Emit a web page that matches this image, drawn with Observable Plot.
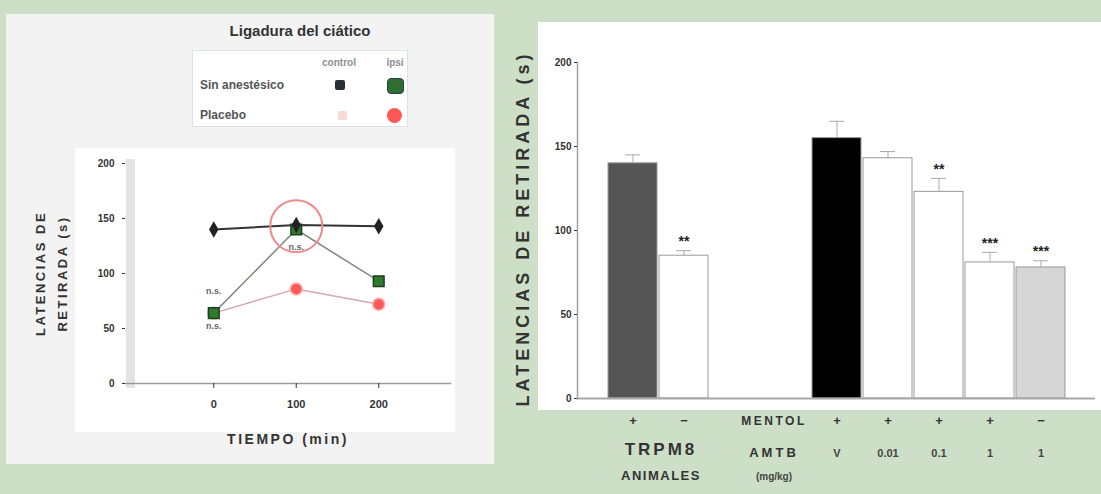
<!DOCTYPE html>
<html><head><meta charset="utf-8">
<script src="https://cdn.jsdelivr.net/npm/d3@7"></script>
<script src="https://cdn.jsdelivr.net/npm/@observablehq/plot@0.6"></script>
<style>
html,body{margin:0;padding:0;}
body{width:1101px;height:494px;background:#cde0c7;position:relative;overflow:hidden;font-family:"Liberation Sans",Arial,sans-serif;}
.abs{position:absolute;}
#leftPanel{left:6px;top:14px;width:488px;height:450px;background:#f2f3f2;}
#leftPlotBg{left:75px;top:148px;width:380px;height:284px;background:#fff;}
#rightPanel{left:538px;top:22px;width:563px;height:388px;background:#fff;}
#leftChart{left:0;top:140px;}
#rightChart{left:505px;top:0;}
#legTitle{left:185px;top:22px;width:230px;text-align:center;font-weight:bold;font-size:15px;color:#333;}
#legBox{left:192px;top:50px;width:216px;height:77px;background:#fff;border:1px solid #dbe2ea;box-sizing:border-box;}
.legHead{font-size:10px;font-weight:bold;color:#8a8f96;}
.legRow{font-size:12px;font-weight:bold;color:#555;}
</style>
</head>
<body>
<div id="leftPanel" class="abs"></div>
<div id="leftPlotBg" class="abs"></div>
<div id="rightPanel" class="abs"></div>
<div id="legTitle" class="abs">Ligadura del ciático</div>
<div id="legBox" class="abs"></div>
<div id="legend"></div>
<div id="leftChart" class="abs"></div>
<div id="rightChart" class="abs"></div>
<script>
// ---------- Left chart data ----------
const times = [0, 100, 200];
const leftXTicks = [0, 100, 200];
const leftYTicks = [0, 50, 100, 150, 200];
const sinAnestControl = [140, 144, 143];
const sinAnestIpsi = [64, 140, 93];
const placeboIpsi = [64, 86, 72];
const highlightTime = [100];
const highlightValue = [143];
const noteTimes = [0, 0, 100];
const noteValues = [84, 52, 124];
const noteTexts = ["n.s.", "n.s.", "n.s."];
const legendColumns = ["control", "ipsi"];
const legendRows = ["Sin anestésico", "Placebo"];

// ---------- Right chart data ----------
const barKeys = ["b1", "b2", "b3", "b4", "b5", "b6", "b7"];
const slotOrder = ["b1", "b2", "g1", "g2", "b3", "b4", "b5", "b6", "b7"];
const barValues = [140, 85, 155, 143, 123, 81, 78];
const barErrors = [5, 3, 10, 4, 8, 6, 4];
const barGroups = ["TRPM8 +", "TRPM8 −", "Mentol", "Mentol + AMTB", "Mentol + AMTB", "Mentol + AMTB", "AMTB"];
const barSig = ["", "**", "", "", "**", "***", "***"];
const row1Labels = ["+", "−", "+", "+", "+", "+", "−"];
const row2Labels = ["", "", "V", "0.01", "0.1", "1", "1"];
const rightYTicks = [0, 50, 100, 150, 200];

// ---------- Legend (HTML) ----------
const leg = document.getElementById("legend");
function addEl(html, style, cls) {
  const d = document.createElement("div");
  d.className = "abs " + (cls || "");
  d.innerHTML = html;
  Object.assign(d.style, style);
  leg.appendChild(d);
  return d;
}
addEl(legendColumns[0], {left: "312px", top: "57px", width: "54px", textAlign: "center"}, "legHead");
addEl(legendColumns[1], {left: "380px", top: "57px", width: "30px", textAlign: "center"}, "legHead");
addEl(legendRows[0], {left: "200px", top: "78px"}, "legRow");
addEl(legendRows[1], {left: "200px", top: "108px"}, "legRow");
addEl("", {left: "335px", top: "80px", width: "10px", height: "10px", background: "#2a2f33", borderRadius: "2px"});
addEl("", {left: "387px", top: "78px", width: "15px", height: "14px", background: "#2f6e32", borderRadius: "4px", border: "1px solid #244"});
addEl("", {left: "338px", top: "111px", width: "9px", height: "9px", background: "#f6d9d4", borderRadius: "2px"});
addEl("", {left: "387px", top: "108px", width: "15px", height: "15px", background: "#ff5858", borderRadius: "50%"});

function spaceText(svg, match, spacing) {
  d3.select(svg).selectAll("text")
    .filter(function () { return this.textContent.replace(/\s/g, "") === match.replace(/\s/g, ""); })
    .attr("letter-spacing", spacing);
}

// ---------- Left chart ----------
const leftRows = (vals, s) => times.map((t, i) => ({t, v: vals[i], s}));
const blackRows = leftRows(sinAnestControl, legendRows[0] + " " + legendColumns[0]);
const greenRows = leftRows(sinAnestIpsi, legendRows[0] + " " + legendColumns[1]);
const redRows = leftRows(placeboIpsi, legendRows[1] + " " + legendColumns[1]);
const highlight = highlightTime.map((t, i) => ({t, v: highlightValue[i]}));
const notes = noteTimes.map((t, i) => ({t, v: noteValues[i], text: noteTexts[i]}));
const leftYTitle = "LATENCIAS DE\nRETIRADA (s)";
const leftXTitle = "TIEMPO (min)";

const left = Plot.plot({
  width: 495, height: 330,
  marginLeft: 125, marginRight: 45, marginTop: 23, marginBottom: 87,
  style: {background: "transparent", fontFamily: "Liberation Sans, Arial, sans-serif", color: "#333", overflow: "visible"},
  x: {domain: [-107, 287]},
  y: {domain: [0, 200]},
  marks: [
    Plot.frame({anchor: "left", stroke: "#e3e3e3", strokeWidth: 9, dx: 5}),
    Plot.frame({anchor: "bottom", stroke: "#9a9a9a", strokeWidth: 1.5}),
    Plot.axisY({ticks: leftYTicks, tickSize: 3, tickPadding: 8, fontSize: 10, fontWeight: "bold", label: null}),
    Plot.axisX({ticks: leftXTicks, tickSize: 5, tickPadding: 12, fontSize: 11, fontWeight: "bold", label: null}),
    Plot.text([leftXTitle], {text: d => d, frameAnchor: "bottom", textAnchor: "middle", dy: 60, fontSize: 14, fontWeight: "bold", fill: "#333"}),
    Plot.text([leftYTitle], {text: d => d, frameAnchor: "left", textAnchor: "middle", rotate: -90, dx: -77, fontSize: 13, fontWeight: "bold", lineHeight: 1.7, fill: "#333"}),
    Plot.line(redRows, {x: "t", y: "v", stroke: "#d7a6b4", strokeWidth: 1.5}),
    Plot.line(greenRows, {x: "t", y: "v", stroke: "#7d8a7d", strokeWidth: 1.5}),
    Plot.line(blackRows, {x: "t", y: "v", stroke: "#333", strokeWidth: 2}),
    Plot.dot(highlight, {x: "t", y: "v", r: 26, stroke: "#f08a8c", strokeWidth: 2, fill: "none"}),
    Plot.dot(redRows, {x: "t", y: "v", r: 6, fill: "#ff5a5a", stroke: "#ffb0b0"}),
    Plot.dot(greenRows, {x: "t", y: "v", r: 6, symbol: "square", fill: "#2e7a30", stroke: "#1e3e1e"}),
    Plot.dot(blackRows, {x: "t", y: "v", r: 5, symbol: "diamond", fill: "#222"}),
    Plot.text(notes, {x: "t", y: "v", text: "text", fontSize: 9, fill: "#666", fontWeight: "bold"})
  ]
});
document.getElementById("leftChart").appendChild(left);
spaceText(left, leftYTitle, 2.5);
spaceText(left, leftXTitle, 2.5);

// ---------- Right chart ----------
const bars = barKeys.map((k, i) => ({
  key: k, value: barValues[i], err: barErrors[i], group: barGroups[i],
  sig: barSig[i], r1: row1Labels[i], r2: row2Labels[i]
}));
const groupDomain = [...new Set(barGroups)];
const rightYTitle = "LATENCIAS DE RETIRADA (s)";

const right = Plot.plot({
  width: 596, height: 494,
  marginLeft: 72, marginRight: 6, marginTop: 62, marginBottom: 96,
  style: {background: "transparent", fontFamily: "Liberation Sans, Arial, sans-serif", color: "#333", overflow: "visible"},
  x: {domain: slotOrder, type: "band", paddingInner: 0, paddingOuter: 0.51, align: 0.5, axis: null},
  y: {domain: [0, 200]},
  color: {type: "ordinal", domain: groupDomain, range: ["#555555", "#ffffff", "#000000", "#ffffff", "#d6d6d6"]},
  marks: [
    Plot.barY(bars, {x: "key", y: "value", fill: "group", stroke: "#9a9a9a", strokeWidth: 1, insetLeft: 1, insetRight: 1}),
    Plot.ruleX(bars, {x: "key", y1: "value", y2: d => d.value + d.err, stroke: "#aaa"}),
    Plot.tickY(bars, {x: "key", y: d => d.value + d.err, stroke: "#aaa", insetLeft: 18, insetRight: 18}),
    Plot.text(bars.filter(d => d.sig), {x: "key", y: d => d.value + d.err, text: "sig", dy: -9, fontSize: 14, fontWeight: "bold", fill: "#222"}),
    Plot.frame({anchor: "left", stroke: "#a0a0a0", strokeWidth: 1.5}),
    Plot.ruleY([0], {stroke: "#a8a8a8", strokeWidth: 2}),
    Plot.axisY({ticks: rightYTicks, tickSize: 3, tickPadding: 3, fontSize: 10, fontWeight: "bold", label: null}),
    Plot.text([rightYTitle], {text: d => d, frameAnchor: "left", textAnchor: "middle", rotate: -90, dx: -54, dy: -2, fontSize: 18, fontWeight: "bold", fill: "#333"}),
    Plot.text(bars, {x: "key", text: "r1", frameAnchor: "bottom", dy: 26, fontSize: 13, fontWeight: "bold", fill: "#333"}),
    Plot.text(bars, {x: "key", text: "r2", frameAnchor: "bottom", dy: 58, fontSize: 11, fontWeight: "bold", fill: "#444"}),
    Plot.text(["MENTOL"], {x: () => "g2", text: d => d, frameAnchor: "bottom", dy: 26, dx: -12, fontSize: 12, fontWeight: "bold", fill: "#333"}),
    Plot.text(["AMTB"], {x: () => "g2", text: d => d, frameAnchor: "bottom", dy: 58, dx: -12, fontSize: 13, fontWeight: "bold", fill: "#333"}),
    Plot.text(["(mg/kg)"], {x: () => "g2", text: d => d, frameAnchor: "bottom", dy: 81, dx: -12, fontSize: 10, fontWeight: "bold", fill: "#444"}),
    Plot.text(["TRPM8"], {x: () => "b1", text: d => d, frameAnchor: "bottom", dy: 56, dx: 28, fontSize: 17, fontWeight: "bold", fill: "#333", ariaLabel: "trpm8"}),
    Plot.text(["ANIMALES"], {x: () => "b1", text: d => d, frameAnchor: "bottom", dy: 81, dx: 28, fontSize: 13, fontWeight: "bold", fill: "#333"})
  ]
});
document.getElementById("rightChart").appendChild(right);
spaceText(right, rightYTitle, 4);
spaceText(right, "TRPM8", 3);
spaceText(right, "ANIMALES", 1.5);
spaceText(right, "MENTOL", 2.5);
spaceText(right, "AMTB", 3);
d3.select(right).selectAll('g[aria-label="trpm8"] text').style("text-decoration", "underline overline");
</script>
</body></html>
